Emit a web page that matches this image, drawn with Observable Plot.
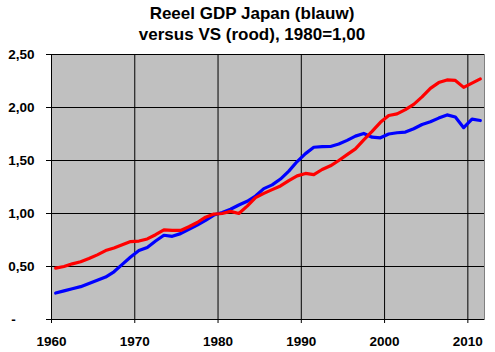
<!DOCTYPE html>
<html>
<head>
<meta charset="utf-8">
<script src="https://cdn.jsdelivr.net/npm/d3@7"></script>
<script src="https://cdn.jsdelivr.net/npm/@observablehq/plot@0.6"></script>
<style>
  body { margin: 0; background: #ffffff; width: 495px; height: 352px; overflow: hidden; }
  #title { height: 46px; box-sizing: border-box; padding-top: 3px; text-align: center;
           font-family: "Liberation Sans", Arial, sans-serif; font-weight: bold; font-size: 17px;
           line-height: 21px; color: #000; padding-left: 9px; }
  svg { display: block; font-weight: bold; }
</style>
</head>
<body>
<div id="title">Reeel GDP Japan (blauw)<br>versus VS (rood), 1980=1,00</div>
<div id="chart"></div>
<script>
const years = [1960,1961,1962,1963,1964,1965,1966,1967,1968,1969,
               1970,1971,1972,1973,1974,1975,1976,1977,1978,1979,
               1980,1981,1982,1983,1984,1985,1986,1987,1988,1989,
               1990,1991,1992,1993,1994,1995,1996,1997,1998,1999,
               2000,2001,2002,2003,2004,2005,2006,2007,2008,2009,
               2010,2011];
const japan = [0.25,0.27,0.29,0.31,0.34,0.37,0.40,0.45,0.52,0.59,
               0.65,0.68,0.74,0.795,0.785,0.81,0.85,0.89,0.935,0.985,
               1.01,1.04,1.08,1.115,1.165,1.235,1.27,1.325,1.40,1.49,
               1.565,1.625,1.63,1.632,1.655,1.69,1.73,1.755,1.72,1.714,
               1.75,1.762,1.768,1.80,1.84,1.865,1.90,1.93,1.91,1.81,
               1.89,1.877];
const us =    [0.485,0.50,0.525,0.545,0.575,0.61,0.65,0.675,0.705,0.735,
               0.74,0.76,0.80,0.845,0.84,0.84,0.875,0.915,0.965,0.995,
               1.00,1.02,1.00,1.07,1.15,1.19,1.225,1.26,1.31,1.355,
               1.378,1.366,1.415,1.45,1.50,1.555,1.61,1.695,1.775,1.86,
               1.925,1.94,1.98,2.03,2.10,2.18,2.235,2.26,2.255,2.19,
               2.23,2.27];
const xTicks = [1960,1970,1980,1990,2000,2010];
const yTicks = [0,0.5,1,1.5,2,2.5];

const jp = years.map((y,i) => ({year: y, value: japan[i]}));
const vs = years.map((y,i) => ({year: y, value: us[i]}));
const fmt = d => d === 0 ? "-\u00a0\u00a0\u00a0\u00a0\u00a0" : d3.format(".2f")(d).replace(".", ",");

const chart = Plot.plot({
  width: 495,
  height: 306,
  marginLeft: 51,
  marginRight: 11,
  marginTop: 8,
  marginBottom: 33,
  style: {fontFamily: "'Liberation Sans', Arial, sans-serif", fontSize: "13.5px", color: "#000", background: "#fff"},
  x: {domain: [1960, 2012]},
  y: {domain: [0, 2.5]},
  marks: [
    Plot.frame({fill: "#c0c0c0", stroke: "#808080"}),
    Plot.gridX(xTicks, {stroke: "#000", strokeOpacity: 1}),
    Plot.gridY(yTicks, {stroke: "#000", strokeOpacity: 1}),
    Plot.ruleX([1960], {stroke: "#000"}),
    Plot.ruleY([0], {stroke: "#000"}),
    Plot.axisX(xTicks, {tickFormat: d => String(d), tickSize: 4, tickPadding: 13, fontWeight: "bold", fontSize: 13.5, label: null}),
    Plot.axisY(yTicks, {tickFormat: fmt, tickSize: 5, tickPadding: 12, fontWeight: "bold", fontSize: 13.5, label: null}),
    Plot.line(jp, {x: d => d.year + 0.5, y: "value", stroke: "#0000ff", strokeWidth: 3.2}),
    Plot.line(vs, {x: d => d.year + 0.5, y: "value", stroke: "#ff0000", strokeWidth: 3.2})
  ]
});
document.getElementById("chart").appendChild(chart);
</script>
</body>
</html>
